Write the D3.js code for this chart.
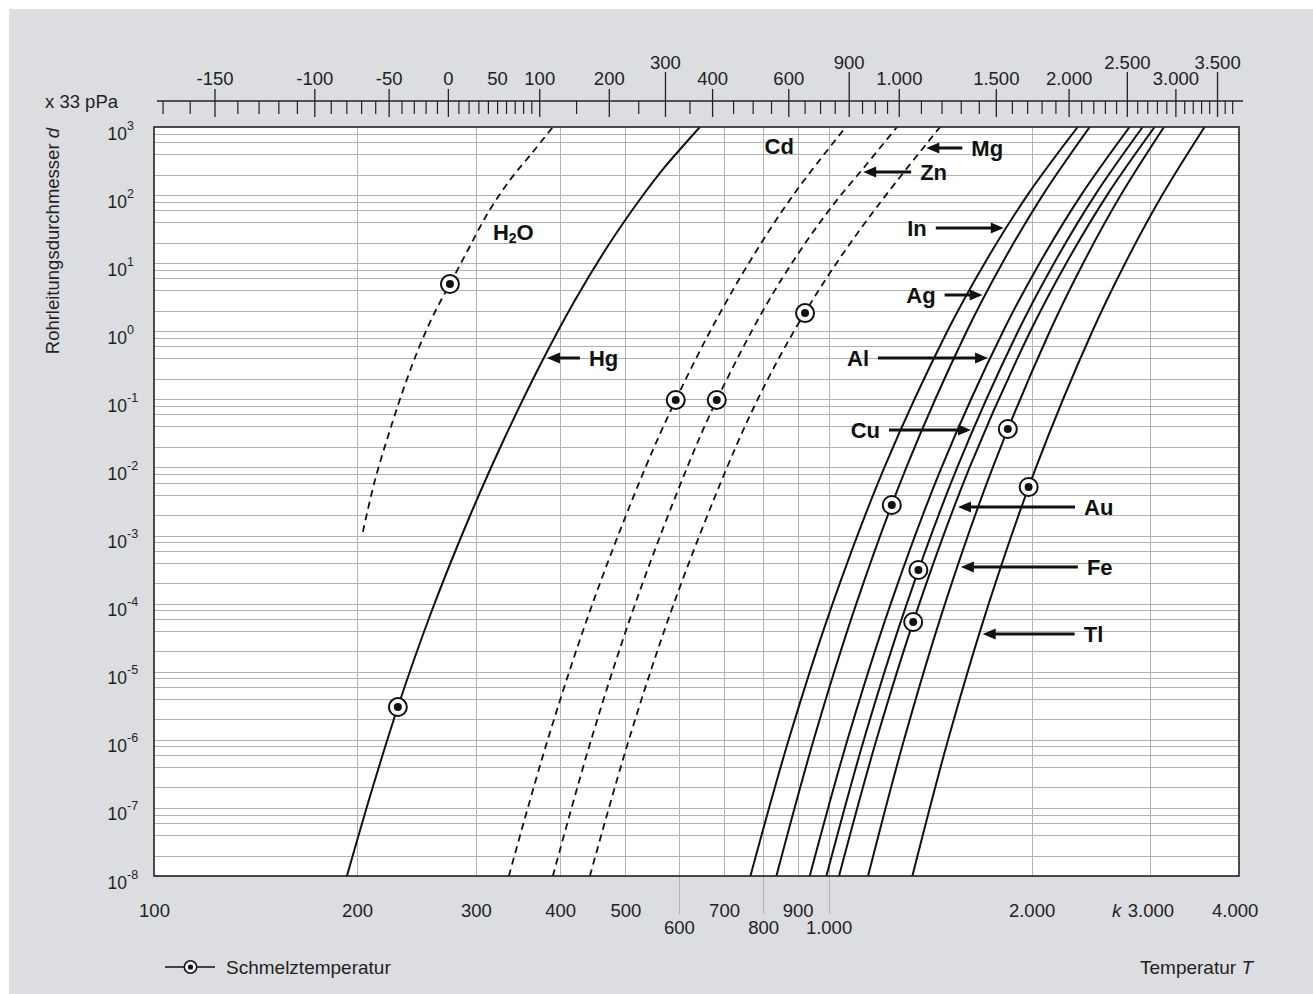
<!DOCTYPE html>
<html>
<head>
<meta charset="utf-8">
<title>Dampfdruck</title>
<script src="https://cdn.jsdelivr.net/npm/d3@7"></script>
<style>
  body { margin: 0; background: #fff; }
  text { font-family: "Liberation Sans", Arial, Helvetica, sans-serif; fill: #222; }
</style>
</head>
<body>
<svg id="chart"></svg>
<script>
// curves: [temperature T in K, value on the y axis]
const h2o = [[204.0,1.13e-3],[212.6,6.5e-3],[223.7,0.035],[235.5,0.163],[248,0.63],[260.9,1.92],[274.6,4.94],[292,15.6],[312.6,54.6],[337.1,167],[364.5,430],[390.2,1000]];
const hg  = [[193.2,1e-8],[210.4,1.83e-7],[229.9,3.03e-6],[256.4,6.58e-5],[292.9,1.78e-3],[331.2,0.0275],[373.3,0.314],[420.6,2.83],[472.4,18.8],[525.2,86.1],[571.9,259],[608,521],[644.5,1000]];
const cd  = [[335.8,1e-8],[383.4,1e-6],[446.8,1e-4],[535.3,1e-2],[593.6,0.098],[667.6,1],[761.6,10],[886.5,100],[1060.7,1000]];
const zn  = [[390.2,1e-8],[444.7,1e-6],[517,1e-4],[617.2,1e-2],[682.8,0.098],[805.1,2.27],[907.1,15.1],[1015.4,71.5],[1136.5,277],[1263.4,1000]];
const mg  = [[442.8,1e-8],[505.8,1e-6],[589.7,1e-4],[707.1,1e-2],[785.2,0.1],[876.8,0.794],[988,5.58],[1113.5,31.1],[1254.8,148.6],[1463.4,1000]];
const inn = [[766,1e-8],[872.8,1e-6],[1014.1,1e-4],[1210.1,1e-2],[1499.9,1],[1703.9,10],[1972,100],[2341,1000]];
const ag  = [[837,1e-8],[950.6,1e-6],[1099.6,1e-4],[1304.3,1e-2],[1602.6,1],[1809.3,10],[2077.7,100],[2439,1000]];
const al  = [[937.9,1e-8],[1066.8,1e-6],[1236.7,1e-4],[1471,1e-2],[1814.9,1],[2055,10],[2368.5,100],[2795,1000]];
const cu  = [[992.8,1e-8],[1128.2,1e-6],[1306.5,1e-4],[1551.6,1e-2],[1909.9,1],[2159.4,10],[2483.2,100],[2922,1000]];
const au  = [[1036.5,1e-8],[1177.7,1e-6],[1363.5,1e-4],[1618.7,1e-2],[1991.6,1],[2251.2,10],[2588,100],[3044,1000]];
const fe  = [[1144.5,1e-8],[1294,1e-6],[1488.5,1e-4],[1751.9,1e-2],[2128.6,1],[2385,10],[2712,100],[3143,1000]];
const tl  = [[1331.3,1e-8],[1504,1e-6],[1728,1e-4],[2030.5,1e-2],[2461,1],[2753,10],[3124,100],[3610,1000]];

const dashedSeries = [h2o, cd, zn, mg];
const solidSeries = [hg, inn, ag, al, cu, au, fe, tl];

// melting points (Schmelztemperatur)
const meltT = [274.6, 229.9, 593.6, 682.8, 922.9, 1241, 1359, 1335, 1844, 1980];
const meltP = [4.94, 3.03e-6, 0.098, 0.098, 1.85, 2.81e-3, 3.12e-4, 5.37e-5, 0.0367, 5.16e-3];

// ticks
const yTicks = [1e-8,1e-7,1e-6,1e-5,1e-4,1e-3,1e-2,1e-1,1e0,1e1,1e2,1e3];
const yExp = ["-8","-7","-6","-5","-4","-3","-2","-1","0","1","2","3"];
const gridMant = [1,2,4,6,8];
const gridT = [200,300,400,500,600,700,800,900,1000,2000,3000];
const longGridT = [600,800,1000];
const bottomT = [100,200,300,400,500,600,700,800,900,1000,2000,3000,4000];
const bottomLabels = ["100","200","300","400","500","600","700","800","900","1.000","2.000","3.000","4.000"];
const bottomRow = [0,0,0,0,0,1,0,1,0,1,0,0,0];

const topMajorC = [-150,-100,-50,0,100,200,400,600,1000,1500,2000,3000];
const topUpperC = [300,800,2500,3500];
const topMinorC = [-170,-160,-140,-130,-120,-110,-90,-80,-70,-60,-40,-30,-20,-10,
  10,20,30,40,50,60,70,80,90,150,250,350,450,500,550,650,700,750,850,900,950,
  1100,1200,1300,1400,1600,1700,1800,1900,2100,2200,2300,2400,2600,2700,2800,2900,
  3100,3200,3300,3400,3600,3700];
const topLabelC = [-150,-100,-50,0,50,100,200,300,400,600,800,1000,1500,2000,2500,3000,3500];
const topLabelText = ["-150","-100","-50","0","50","100","200","300","400","600","900","1.000","1.500","2.000","2.500","3.000","3.500"];
const topLabelRow = [0,0,0,0,0,0,0,1,0,0,1,0,0,0,1,0,1];

// labels with arrows (dir -1: arrow points left, text right of it)
const notes = [
  {text:"Hg", s:hg,  p:0.405,   dir:-1, len:33},
  {text:"Zn", s:zn,  p:218,     dir:-1, len:48},
  {text:"Mg", s:mg,  p:492,     dir:-1, len:36},
  {text:"In", s:inn, p:32.9,    dir: 1, len:68},
  {text:"Ag", s:ag,  p:3.41,    dir: 1, len:38},
  {text:"Al", s:al,  p:0.405,   dir: 1, len:110},
  {text:"Cu", s:cu,  p:0.0355,  dir: 1, len:82},
  {text:"Au", s:au,  p:2.62e-3, dir:-1, len:117},
  {text:"Fe", s:fe,  p:3.45e-4, dir:-1, len:117},
  {text:"Tl", s:tl,  p:3.58e-5, dir:-1, len:92}
];

const W = 1313, H = 994;
const plot = {left:154, right:1239, top:127, bottom:876};
const topY = 101;

const x = d3.scaleLog().domain([100, 4060]).range([plot.left, plot.right]);
const y = d3.scaleLog().domain([1e-8, 1e3]).range([plot.bottom, plot.top]);
const xC = c => x(c + 273.15);

const svg = d3.select("#chart").attr("width", W).attr("height", H);

svg.append("rect").attr("x", 9).attr("y", 9).attr("width", W - 9).attr("height", H - 9).attr("fill", "#dcdde0");
svg.append("rect").attr("x", plot.left).attr("y", plot.top)
  .attr("width", plot.right - plot.left).attr("height", plot.bottom - plot.top).attr("fill", "#fff");

svg.append("clipPath").attr("id", "clip").append("rect")
  .attr("x", plot.left).attr("y", plot.top)
  .attr("width", plot.right - plot.left).attr("height", plot.bottom - plot.top);

// grid
let hGrid = [];
yTicks.slice(0, -1).forEach(d => gridMant.forEach(m => hGrid.push(d * m)));
svg.append("g").selectAll("line").data(hGrid).enter().append("line")
  .attr("x1", plot.left).attr("x2", plot.right)
  .attr("y1", d => Math.round(y(d)) + 0.5).attr("y2", d => Math.round(y(d)) + 0.5)
  .attr("stroke", "#b2b2b2").attr("stroke-width", 1);

svg.append("g").selectAll("line").data(gridT).enter().append("line")
  .attr("x1", d => Math.round(x(d)) + 0.5).attr("x2", d => Math.round(x(d)) + 0.5)
  .attr("y1", plot.top)
  .attr("y2", d => longGridT.includes(d) ? 914 : plot.bottom)
  .attr("stroke", "#b2b2b2").attr("stroke-width", 1);

// curves
const line = d3.line().x(d => x(d[0])).y(d => y(d[1])).curve(d3.curveCatmullRom.alpha(0.5));
const curves = svg.append("g").attr("clip-path", "url(#clip)");
curves.selectAll(".dashed").data(dashedSeries).enter().append("path")
  .attr("class", "dashed").attr("d", line).attr("fill", "none")
  .attr("stroke", "#111").attr("stroke-width", 1.8).attr("stroke-dasharray", "7,5");
curves.selectAll(".solid").data(solidSeries).enter().append("path")
  .attr("class", "solid").attr("d", line).attr("fill", "none")
  .attr("stroke", "#111").attr("stroke-width", 2);

// frame
svg.append("rect").attr("x", plot.left).attr("y", plot.top)
  .attr("width", plot.right - plot.left).attr("height", plot.bottom - plot.top)
  .attr("fill", "none").attr("stroke", "#222").attr("stroke-width", 1.6);

// melting point markers
const marks = svg.append("g").selectAll("g").data(meltT).enter().append("g")
  .attr("transform", (d, i) => `translate(${x(d)},${y(meltP[i])})`);
marks.append("circle").attr("r", 9).attr("fill", "#fff").attr("stroke", "#111").attr("stroke-width", 2);
marks.append("circle").attr("r", 4).attr("fill", "#111");

// arrows and labels
function xAtP(pts, p) {
  const lp = Math.log10(p);
  for (let i = 0; i < pts.length - 1; i++) {
    const a = Math.log10(pts[i][1]), b = Math.log10(pts[i + 1][1]);
    if (lp >= a && lp <= b) {
      const t = (lp - a) / (b - a);
      return x(pts[i][0]) * (1 - t) + x(pts[i + 1][0]) * t;
    }
  }
  return x(pts[pts.length - 1][0]);
}
const noteG = svg.append("g");
notes.forEach(n => {
  const yy = y(n.p);
  const tip = xAtP(n.s, n.p) - n.dir * 3;
  const tail = tip - n.dir * n.len;
  noteG.append("line").attr("x1", tail).attr("x2", tip - n.dir * 8)
    .attr("y1", yy).attr("y2", yy).attr("stroke", "#111").attr("stroke-width", 3);
  noteG.append("path")
    .attr("d", `M${tip},${yy} L${tip - n.dir * 13},${yy - 5.5} L${tip - n.dir * 13},${yy + 5.5} Z`)
    .attr("fill", "#111");
  noteG.append("text").attr("x", tail - n.dir * 9).attr("y", yy + 8)
    .attr("text-anchor", n.dir < 0 ? "start" : "end")
    .attr("font-size", 22).attr("font-weight", "bold").style("fill", "#111").text(n.text);
});

// plain labels
const h2oLabel = svg.append("text").attr("x", x(318)).attr("y", y(28.7) + 8)
  .attr("font-size", 22).attr("font-weight", "bold").style("fill", "#111");
h2oLabel.append("tspan").text("H");
h2oLabel.append("tspan").attr("font-size", 14).attr("dy", 3).text("2");
h2oLabel.append("tspan").attr("dy", -3).text("O");
svg.append("text").attr("x", x(804)).attr("y", y(526) + 8)
  .attr("font-size", 22).attr("font-weight", "bold").style("fill", "#111").text("Cd");

// y axis labels
const yAxis = svg.append("g").attr("transform", `translate(${plot.left},0)`)
  .call(d3.axisLeft(y).tickValues(yTicks).tickSize(0).tickFormat(""));
yAxis.select(".domain").remove();
yAxis.selectAll(".tick text").remove();
yAxis.selectAll(".tick").each(function(d, i) {
  const g = d3.select(this);
  g.append("text").attr("x", -27).attr("y", 12).attr("text-anchor", "end")
    .attr("font-size", 17.5).text("10");
  g.append("text").attr("x", -27).attr("y", 2).attr("text-anchor", "start")
    .attr("font-size", 12.5).text(yExp[i]);
});

const yTitle = svg.append("text").attr("transform", `translate(59,${plot.top + 1}) rotate(-90)`)
  .attr("text-anchor", "end").attr("font-size", 18.5);
yTitle.append("tspan").text("Rohrleitungsdurchmesser ");
yTitle.append("tspan").attr("font-style", "italic").text("d");

// bottom axis (Kelvin)
const xAxis = svg.append("g").attr("transform", `translate(0,${plot.bottom})`)
  .call(d3.axisBottom(x).tickValues(bottomT).tickSize(0).tickFormat((d, i) => bottomLabels[i]));
xAxis.select(".domain").remove();
xAxis.selectAll(".tick text")
  .attr("y", (d, i) => bottomRow[i] ? 58 : 41).attr("dy", null)
  .attr("font-size", 18.5).attr("font-family", null).style("fill", "#222");
svg.append("text").attr("x", x(3000) - 29).attr("y", plot.bottom + 41)
  .attr("text-anchor", "end").attr("font-size", 18.5).attr("font-style", "italic").text("k");

// top axis (Celsius)
const topG = svg.append("g");
topG.append("line").attr("x1", 157).attr("x2", 1243).attr("y1", topY).attr("y2", topY)
  .attr("stroke", "#222").attr("stroke-width", 1.4);
topG.selectAll(".minor").data(topMinorC).enter().append("line")
  .attr("x1", d => xC(d)).attr("x2", d => xC(d)).attr("y1", topY).attr("y2", topY + 13)
  .attr("stroke", "#222").attr("stroke-width", 1.2);
topG.selectAll(".major").data(topMajorC).enter().append("line")
  .attr("x1", d => xC(d)).attr("x2", d => xC(d)).attr("y1", topY - 12).attr("y2", topY + 16)
  .attr("stroke", "#222").attr("stroke-width", 1.3);
topG.selectAll(".upper").data(topUpperC).enter().append("line")
  .attr("x1", d => xC(d)).attr("x2", d => xC(d)).attr("y1", topY - 29).attr("y2", topY + 16)
  .attr("stroke", "#222").attr("stroke-width", 1.3);
topG.selectAll(".lab").data(topLabelC).enter().append("text")
  .attr("x", d => xC(d)).attr("y", (d, i) => topLabelRow[i] ? 69 : 85)
  .attr("text-anchor", "middle").attr("font-size", 18.5)
  .text((d, i) => topLabelText[i]);
svg.append("text").attr("x", 45).attr("y", 108).attr("font-size", 18.5).text("x 33 pPa");

// legend
const leg = svg.append("g").attr("transform", "translate(0,967)");
leg.append("line").attr("x1", 165).attr("x2", 215).attr("stroke", "#111").attr("stroke-width", 1.5);
leg.append("circle").attr("cx", 190.5).attr("r", 6.2).attr("fill", "#fff").attr("stroke", "#111").attr("stroke-width", 1.6);
leg.append("circle").attr("cx", 190.5).attr("r", 2.6).attr("fill", "#111");
leg.append("text").attr("x", 226).attr("y", 7).attr("font-size", 19).text("Schmelztemperatur");
const tt = svg.append("text").attr("x", 1253).attr("y", 974).attr("text-anchor", "end").attr("font-size", 19);
tt.append("tspan").text("Temperatur ");
tt.append("tspan").attr("font-style", "italic").text("T");
</script>
</body>
</html>
